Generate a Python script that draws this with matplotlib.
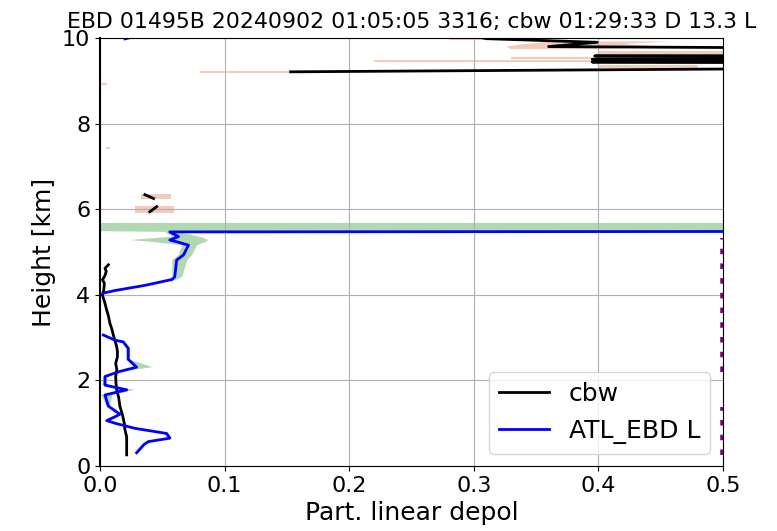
import numpy as np
import matplotlib
matplotlib.use('Agg')
import matplotlib.pyplot as plt

nan = np.nan

# ATL_EBD L profile (blue) with its uncertainty band (green)
atl_h = [0.31, 0.51, 0.57, 0.65, 0.76, 0.88, 1.00, 1.06, 1.15, 1.21, 1.40, 1.66,
         1.78, 1.89, 2.09, 2.20, 2.31, 2.49, 2.75, 2.90, 2.94, 3.06, 3.50,
         4.04, 4.10, 4.22, 4.36, 4.42, 4.81, 4.93, 5.16, 5.24, 5.28, 5.36, 5.47,
         5.49, 5.68, 8.00, 9.98, 10.05]
atl = [0.0294, 0.0356, 0.0388, 0.056, 0.0535, 0.028, 0.012, 0.0054, 0.012, 0.016,
       0.0067, 0.004, 0.0214, 0.004, 0.004, 0.0147, 0.0294, 0.0227, 0.0227, 0.0187,
       0.012, 0.0027, nan,
       0.0027, 0.012, 0.036, 0.058, 0.060, 0.0615, 0.067, 0.071, 0.0615, 0.056,
       0.063, 0.056, 1.0, 1.0, nan, 0.02, 0.03]
atl_lo = [0.028, 0.034, 0.037, 0.054, 0.052, 0.027, 0.011, 0.004, 0.010, 0.015,
          0.005, 0.001, 0.019, 0.002, 0.003, 0.013, 0.028, 0.021, 0.021, 0.017,
          0.011, 0.002, nan,
          0.002, 0.011, 0.035, 0.056, 0.058, 0.058, 0.063, 0.066, 0.040, 0.024,
          0.058, 0.052, -0.01, -0.01, nan, nan, nan]
atl_hi = [0.031, 0.037, 0.041, 0.058, 0.055, 0.029, 0.013, 0.007, 0.013, 0.018,
          0.008, 0.010, 0.028, 0.006, 0.005, 0.016, 0.042, 0.024, 0.024, 0.020,
          0.013, 0.003, nan,
          0.003, 0.013, 0.038, 0.062, 0.066, 0.070, 0.074, 0.078, 0.085, 0.087,
          0.080, 0.062, 1.0, 1.0, nan, nan, nan]

# cbw profile (black)
cbw_h = [0.26, 0.50, 0.68, 0.85, 1.00, 1.20, 1.39, 1.60, 1.78, 1.95, 2.09, 2.25,
         2.40, 2.55, 2.67, 2.79, 2.95, 3.06, 3.20, 3.33, 3.50, 3.64, 3.80, 4.00,
         4.10, 4.27, 4.35, 4.45, 4.55, 4.62, 4.70,
         4.80, 5.94, 6.06, 6.15, 6.25, 6.34,
         7.00, 9.21, 9.37, 9.40, 9.44, 9.46, 9.50, 9.53, 9.58, 9.62, 9.70, 9.80,
         9.90, 9.985, 10.05]
cbw = [0.0214, 0.0214, 0.0214, 0.020, 0.0195, 0.018, 0.016, 0.0150, 0.0134, 0.0128,
       0.0126, 0.0135, 0.0126, 0.0140, 0.014, 0.0134, 0.0118, 0.0107, 0.0095, 0.008,
       0.0068, 0.0054, 0.004, 0.0019, 0.003, 0.0035, 0.002, 0.004, 0.005, 0.004,
       0.0067,
       nan, 0.040, 0.0455, nan, 0.043, 0.036,
       nan, 0.153, 1.0, 1.0, 0.395, 1.0, 0.395, 1.0, 0.397, 1.0, 1.0, 0.36,
       0.399, 0.31, 0.30]

# cbw uncertainty band (salmon)
cbw_err_h = [5.92, 6.08, 6.15, 6.23, 6.36, 7.0, 7.41, 7.45, 8.0, 8.91, 8.95, 9.1,
             9.18, 9.24, 9.26, 9.31, 9.37, 9.40, 9.43, 9.48, 9.49, 9.52, 9.56,
             9.60, 9.62, 9.70, 9.71, 9.74, 9.80, 9.86, 9.88, 9.92, 9.94, 9.96, 10.0]
cbw_lo = [0.028, 0.028, nan, 0.033, 0.033, nan, 0.005, 0.005, nan, 0.001, 0.001, nan,
          0.080, 0.080, nan, 0.40, 0.40, nan, 0.22, 0.22, nan, 0.33, 0.33,
          nan, 0.40, 0.40, nan, 0.33, 0.326, 0.34, 0.35, 0.36, nan, 0.28, 0.28]
cbw_hi = [0.059, 0.059, nan, 0.057, 0.057, nan, 0.008, 0.008, nan, 0.006, 0.006, nan,
          0.160, 0.160, nan, 0.48, 0.48, nan, 1.5, 1.5, nan, 1.5, 1.5,
          nan, 1.5, 1.5, nan, 0.40, 0.454, 0.42, 0.43, 0.457, nan, 0.36, 0.36]

# values beyond the axis, drawn at the right edge
edge_h = [0.26, 1.39, 1.80, 2.20, 5.33]
edge_x = [0.5, 0.5, nan, 0.5, 0.5]

title = 'EBD 01495B 20240902 01:05:05 3316; cbw 01:29:33 D 13.3 L'

fig = plt.figure(figsize=(7.77, 5.31), dpi=100)
ax = fig.add_axes([0.1287, 0.1224, 0.8018, 0.806])

ax.fill_betweenx(cbw_err_h, cbw_lo, cbw_hi, color='darksalmon', alpha=0.5, lw=0)
ax.fill_betweenx(atl_h, atl_lo, atl_hi, color='green', alpha=0.3, lw=0)
ax.plot(cbw, cbw_h, color='black', lw=2, label='cbw')
ax.plot(atl, atl_h, color='blue', lw=2, label='ATL_EBD L')
ax.plot(edge_x, edge_h, color='purple', ls=':', lw=4, label='_nolegend_')

ax.set_xlim(0, 0.5)
ax.set_ylim(0, 10)
ax.set_xticks([0.0, 0.1, 0.2, 0.3, 0.4, 0.5])
ax.set_yticks([0, 2, 4, 6, 8, 10])
ax.tick_params(labelsize=16)
ax.grid(True)
ax.spines['left'].set_linewidth(1.5)
ax.set_xlabel('Part. linear depol', fontsize=18)
ax.set_ylabel('Height [km]', fontsize=18)
ax.set_title(title, fontsize=15.8, pad=7)
ax.legend(loc='lower right', fontsize=18)

fig.savefig('out.png', dpi=100)
